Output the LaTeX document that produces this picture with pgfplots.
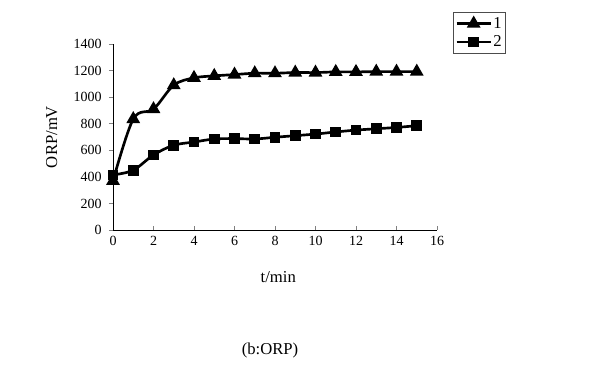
\documentclass[border=0pt]{standalone}
\usepackage{fontspec}
\setmainfont{Liberation Serif}
\usepackage{pgfplots}
\pgfplotsset{compat=1.18}
\begin{document}
\begin{tikzpicture}
\path[fill=white] (0pt,0pt) rectangle (450pt,283.5pt);
\begin{axis}[
  at={(84.75pt,111pt)}, anchor=origin,
  scale only axis, width=243pt, height=139.5pt,
  xmin=0, xmax=16, ymin=0, ymax=1400,
  xtick={0,2,...,16}, ytick={0,200,...,1400},
  axis lines=left, axis line style={-, line width=0.6pt},
  x tick style={line width=0.6pt}, y tick style={line width=0.6pt},
  xtick align=inside, ytick align=outside,
  major tick length=3pt,
  tick label style={font=\fontsize{10.5}{12}\selectfont},
  /pgf/number format/assume math mode=true,
  /pgf/number format/1000 sep={},
  yticklabel style={xshift=-2pt},
  xticklabel style={yshift=-1pt},
  xlabel={t/min}, ylabel={ORP/mV},
  label style={font=\fontsize{12.5}{14}\selectfont},
  xlabel style={at={(axis description cs:0.51,0)}, anchor=center, yshift=-35pt},
  ylabel style={at={(axis description cs:0,0.5)}, anchor=center, yshift=46pt},
  clip=false,
  legend image code/.code={\draw[mark repeat=2,mark phase=2,#1] plot coordinates {(0cm,0cm) (0.45cm,0cm) (0.9cm,0cm)};},
  legend style={at={(rel axis cs:1.049,1.172)}, anchor=north west, draw=black!70, line width=0.6pt,
    font=\fontsize{12.5}{14}\selectfont, inner sep=1.5pt, row sep=0pt, cells={anchor=west},
    nodes={inner xsep=1pt}},
  legend cell align=left,
]
\addplot[black, line width=2pt, smooth, tension=0.55, mark=triangle*, mark size=4pt, mark options={solid}] coordinates {
(0,370) (1,835) (2,910) (3,1090) (4,1145) (5,1160) (6,1170) (7,1180) (8,1180) (9,1185) (10,1185) (11,1190) (12,1190) (13,1192) (14,1192) (15,1192)};
\addlegendentry{1}
\addplot[black, line width=2pt, smooth, tension=0.55, mark=square*, mark size=3pt] coordinates {
(0,415) (1,450) (2,565) (3,638) (4,662) (5,685) (6,688) (7,685) (8,698) (9,710) (10,722) (11,738) (12,752) (13,762) (14,772) (15,785)};
\addlegendentry{2}
\end{axis}
\node[font=\fontsize{12.5}{14}\selectfont] at (202.5pt,21pt) {(b:ORP)};
\end{tikzpicture}
\end{document}
